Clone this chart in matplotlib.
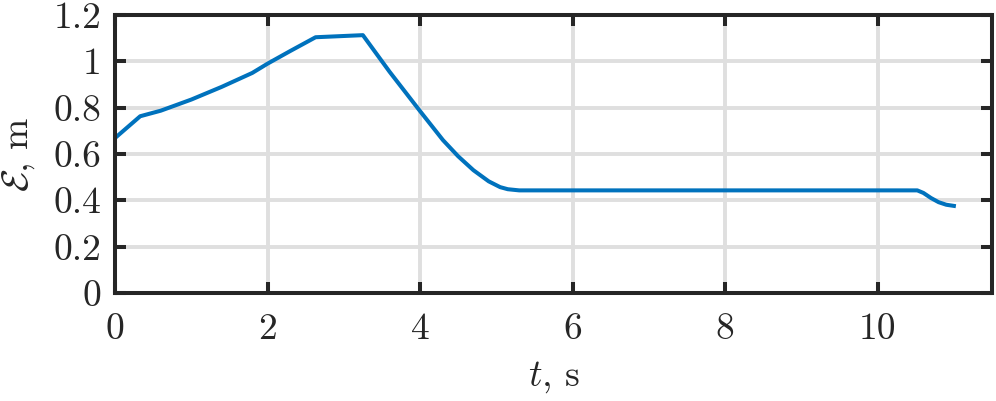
import matplotlib
matplotlib.use("Agg")
import matplotlib.pyplot as plt

plt.rcParams['font.family'] = 'cmr10'
plt.rcParams['mathtext.fontset'] = 'cm'
plt.rcParams['axes.formatter.use_mathtext'] = True

# error vs time
t = [0, 0.33, 0.6, 1.0, 1.4, 1.8, 2.0, 2.3, 2.63, 3.25, 3.6, 4.0, 4.3, 4.5,
     4.7, 4.9, 5.05, 5.15, 5.3, 10.52, 10.6, 10.7, 10.8, 10.9, 11.0]
err = [0.669, 0.763, 0.787, 0.835, 0.89, 0.95, 0.99, 1.045, 1.104, 1.113,
       0.955, 0.785, 0.66, 0.59, 0.53, 0.482, 0.457, 0.448, 0.443, 0.443,
       0.432, 0.41, 0.392, 0.381, 0.376]

xticks = [0, 2, 4, 6, 8, 10]
yticks = [0, 0.2, 0.4, 0.6, 0.8, 1, 1.2]
ytick_labels = ['0', '0.2', '0.4', '0.6', '0.8', '1', '1.2']

fig = plt.figure(figsize=(9.96, 4.01), dpi=100)
ax = fig.add_axes([0.1155, 0.2693, 0.8805, 0.6933])

ax.plot(t, err, color='#0072BD', linewidth=2.9, zorder=3,
        solid_joinstyle='round')

ax.set_xlim(0, 11.5)
ax.set_ylim(0, 1.2)
ax.set_xticks(xticks)
ax.set_xticklabels([str(v) for v in xticks])
ax.set_yticks(yticks)
ax.set_yticklabels(ytick_labels)

ax.grid(True, color='#dfdfdf', linewidth=2.8, zorder=0)
ax.set_axisbelow(True)
for s in ax.spines.values():
    s.set_linewidth(2.9)
    s.set_color('#262626')
    s.set_zorder(4)
ax.tick_params(direction='in', length=8, width=2.9, color='#262626',
               top=True, right=True, labelsize=27, labelcolor='#262626')
ax.tick_params(axis='x', pad=14)
ax.tick_params(axis='y', pad=10)

ax.set_xlabel(r'$t$, s', fontsize=27, color='#262626', labelpad=10)
ax.set_ylabel(r'$\mathcal{E}$, m', fontsize=27, color='#262626', labelpad=12)

fig.savefig('out.png', dpi=100)
